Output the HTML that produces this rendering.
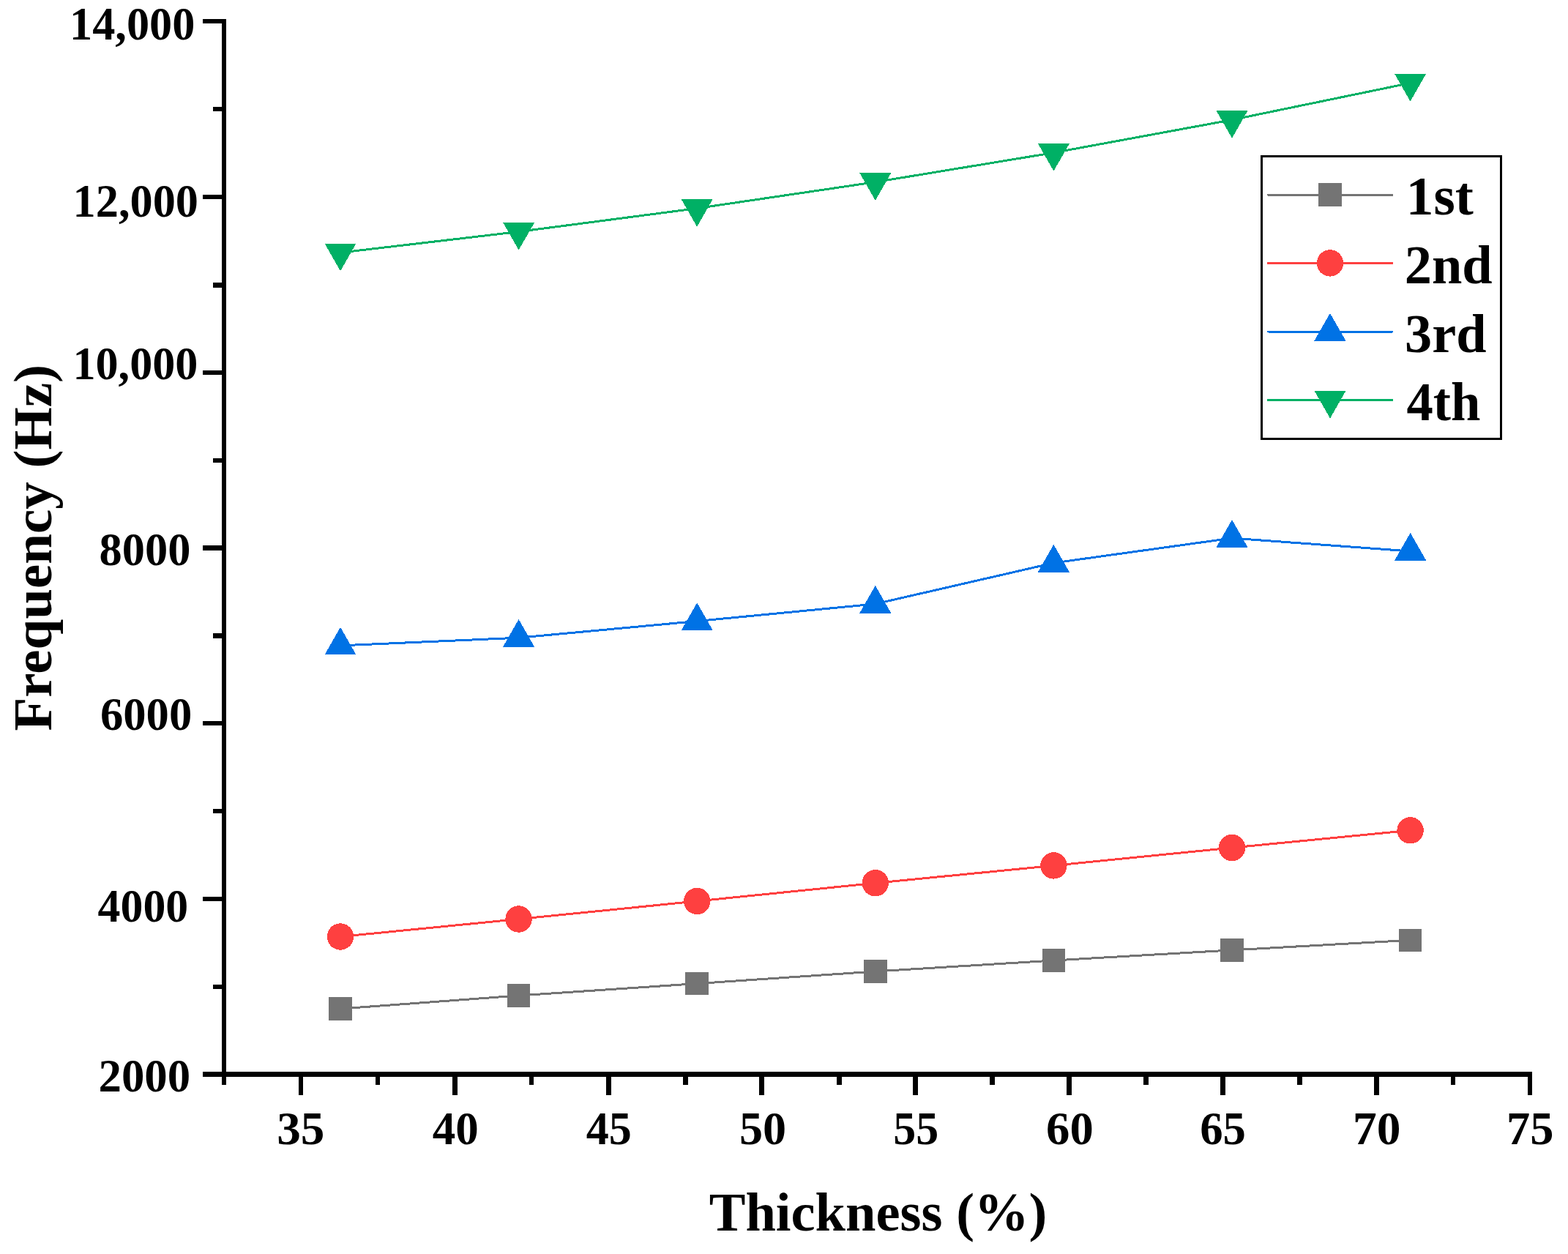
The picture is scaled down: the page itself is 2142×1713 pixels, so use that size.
<!DOCTYPE html>
<html><head><meta charset="utf-8"><title>Frequency vs Thickness</title>
<style>html,body{margin:0;padding:0;background:#fff}svg{display:block}</style></head>
<body><svg width="2142" height="1713" viewBox="0 0 2142 1713">
<rect width="2142" height="1713" fill="#fff"/>
<g fill="#000">
<rect x="303" y="26" width="6" height="1456"/>
<rect x="277" y="1464" width="1816" height="7"/>
<rect x="277" y="26" width="26" height="6"/>
<rect x="277" y="266" width="26" height="6"/>
<rect x="277" y="506" width="26" height="6"/>
<rect x="277" y="745" width="26" height="7"/>
<rect x="277" y="985" width="26" height="6"/>
<rect x="277" y="1225" width="26" height="6"/>
<rect x="291" y="146" width="12" height="6"/>
<rect x="291" y="386" width="12" height="7"/>
<rect x="291" y="626" width="12" height="6"/>
<rect x="291" y="865" width="12" height="7"/>
<rect x="291" y="1105" width="12" height="6"/>
<rect x="291" y="1345" width="12" height="6"/>
<rect x="408" y="1471" width="6" height="25"/>
<rect x="618" y="1471" width="7" height="25"/>
<rect x="828" y="1471" width="7" height="25"/>
<rect x="1037" y="1471" width="7" height="25"/>
<rect x="1247" y="1471" width="7" height="25"/>
<rect x="1457" y="1471" width="7" height="25"/>
<rect x="1667" y="1471" width="7" height="25"/>
<rect x="1877" y="1471" width="7" height="25"/>
<rect x="2087" y="1471" width="6" height="25"/>
<rect x="513" y="1471" width="6" height="11"/>
<rect x="723" y="1471" width="6" height="11"/>
<rect x="933" y="1471" width="7" height="11"/>
<rect x="1143" y="1471" width="7" height="11"/>
<rect x="1352" y="1471" width="7" height="11"/>
<rect x="1562" y="1471" width="7" height="11"/>
<rect x="1772" y="1471" width="7" height="11"/>
<rect x="1982" y="1471" width="6" height="11"/>
</g>
<text x="95.01" y="53.7" textLength="171.36" lengthAdjust="spacingAndGlyphs" style="font-family:'Liberation Serif','Times New Roman',serif;font-weight:bold;font-size:63px">14,000</text>
<text x="99.61" y="296.1" textLength="171.36" lengthAdjust="spacingAndGlyphs" style="font-family:'Liberation Serif','Times New Roman',serif;font-weight:bold;font-size:63px">12,000</text>
<text x="99.42" y="518.1" textLength="171.05" lengthAdjust="spacingAndGlyphs" style="font-family:'Liberation Serif','Times New Roman',serif;font-weight:bold;font-size:63px">10,000</text>
<text x="135.43" y="771.9" textLength="124.95" lengthAdjust="spacingAndGlyphs" style="font-family:'Liberation Serif','Times New Roman',serif;font-weight:bold;font-size:63px">8000</text>
<text x="136.96" y="997.2" textLength="125.33" lengthAdjust="spacingAndGlyphs" style="font-family:'Liberation Serif','Times New Roman',serif;font-weight:bold;font-size:63px">6000</text>
<text x="133.55" y="1259.1" textLength="123.70" lengthAdjust="spacingAndGlyphs" style="font-family:'Liberation Serif','Times New Roman',serif;font-weight:bold;font-size:63px">4000</text>
<text x="134.46" y="1490.9" textLength="125.73" lengthAdjust="spacingAndGlyphs" style="font-family:'Liberation Serif','Times New Roman',serif;font-weight:bold;font-size:63px">2000</text>
<text x="378.25" y="1563" textLength="65.24" lengthAdjust="spacingAndGlyphs" style="font-family:'Liberation Serif','Times New Roman',serif;font-weight:bold;font-size:63px">35</text>
<text x="590.64" y="1563" textLength="63.06" lengthAdjust="spacingAndGlyphs" style="font-family:'Liberation Serif','Times New Roman',serif;font-weight:bold;font-size:63px">40</text>
<text x="800.65" y="1563" textLength="62.12" lengthAdjust="spacingAndGlyphs" style="font-family:'Liberation Serif','Times New Roman',serif;font-weight:bold;font-size:63px">45</text>
<text x="1009.93" y="1563" textLength="64.22" lengthAdjust="spacingAndGlyphs" style="font-family:'Liberation Serif','Times New Roman',serif;font-weight:bold;font-size:63px">50</text>
<text x="1220.32" y="1563" textLength="61.95" lengthAdjust="spacingAndGlyphs" style="font-family:'Liberation Serif','Times New Roman',serif;font-weight:bold;font-size:63px">55</text>
<text x="1429.09" y="1563" textLength="64.67" lengthAdjust="spacingAndGlyphs" style="font-family:'Liberation Serif','Times New Roman',serif;font-weight:bold;font-size:63px">60</text>
<text x="1639.26" y="1563" textLength="62.74" lengthAdjust="spacingAndGlyphs" style="font-family:'Liberation Serif','Times New Roman',serif;font-weight:bold;font-size:63px">65</text>
<text x="1847.96" y="1563" textLength="65.54" lengthAdjust="spacingAndGlyphs" style="font-family:'Liberation Serif','Times New Roman',serif;font-weight:bold;font-size:63px">70</text>
<text x="2057.92" y="1563" textLength="64.44" lengthAdjust="spacingAndGlyphs" style="font-family:'Liberation Serif','Times New Roman',serif;font-weight:bold;font-size:63px">75</text>
<text x="1199.5" y="1681.2" text-anchor="middle" style="font-family:'Liberation Serif','Times New Roman',serif;font-weight:bold;font-size:74.5px">Thickness (%)</text>
<text transform="translate(70,748.2) rotate(-90)" x="0" y="0" text-anchor="middle" style="font-family:'Liberation Serif','Times New Roman',serif;font-weight:bold;font-size:75px">Frequency (Hz)</text>
<g shape-rendering="crispEdges">
<polyline points="465.0,1378.0 708.6,1360.0 952.2,1343.6 1195.8,1327.0 1439.4,1312.0 1683.0,1297.9 1926.6,1284.3" fill="none" stroke="#747474" stroke-width="3" stroke-linejoin="miter" shape-rendering="crispEdges"/>
<rect x="449.2" y="1362.2" width="31.6" height="31.6" fill="#747474"/>
<rect x="692.8" y="1344.2" width="31.6" height="31.6" fill="#747474"/>
<rect x="936.4" y="1327.8" width="31.6" height="31.6" fill="#747474"/>
<rect x="1180.0" y="1311.2" width="31.6" height="31.6" fill="#747474"/>
<rect x="1423.6" y="1296.2" width="31.6" height="31.6" fill="#747474"/>
<rect x="1667.2" y="1282.1" width="31.6" height="31.6" fill="#747474"/>
<rect x="1910.8" y="1268.5" width="31.6" height="31.6" fill="#747474"/>
<polyline points="465.0,1279.5 708.6,1255.5 952.2,1231.0 1195.8,1206.3 1439.4,1182.4 1683.0,1158.0 1926.6,1134.3" fill="none" stroke="#fe4040" stroke-width="3" stroke-linejoin="miter" shape-rendering="crispEdges"/>
<circle cx="465.0" cy="1279.5" r="18.2" fill="#fe4040"/>
<circle cx="708.6" cy="1255.5" r="18.2" fill="#fe4040"/>
<circle cx="952.2" cy="1231.0" r="18.2" fill="#fe4040"/>
<circle cx="1195.8" cy="1206.3" r="18.2" fill="#fe4040"/>
<circle cx="1439.4" cy="1182.4" r="18.2" fill="#fe4040"/>
<circle cx="1683.0" cy="1158.0" r="18.2" fill="#fe4040"/>
<circle cx="1926.6" cy="1134.3" r="18.2" fill="#fe4040"/>
<polyline points="465.0,881.9 708.6,871.2 952.2,848.5 1195.8,825.0 1439.4,769.0 1683.0,735.1 1926.6,753.0" fill="none" stroke="#0072e5" stroke-width="3" stroke-linejoin="miter" shape-rendering="crispEdges"/>
<polygon points="465.0,856.8 486.5,894.4 443.5,894.4" fill="#0072e5"/>
<polygon points="708.6,846.1 730.1,883.7 687.1,883.7" fill="#0072e5"/>
<polygon points="952.2,823.4 973.7,861.0 930.7,861.0" fill="#0072e5"/>
<polygon points="1195.8,799.9 1217.3,837.5 1174.3,837.5" fill="#0072e5"/>
<polygon points="1439.4,743.9 1460.9,781.5 1417.9,781.5" fill="#0072e5"/>
<polygon points="1683.0,710.0 1704.5,747.6 1661.5,747.6" fill="#0072e5"/>
<polygon points="1926.6,727.9 1948.1,765.5 1905.1,765.5" fill="#0072e5"/>
<polyline points="465.0,345.1 708.6,316.5 952.2,284.6 1195.8,248.7 1439.4,208.6 1683.0,163.7 1926.6,113.4" fill="none" stroke="#00b065" stroke-width="3" stroke-linejoin="miter" shape-rendering="crispEdges"/>
<polygon points="443.5,332.6 486.5,332.6 465.0,370.2" fill="#00b065"/>
<polygon points="687.1,304.0 730.1,304.0 708.6,341.6" fill="#00b065"/>
<polygon points="930.7,272.1 973.7,272.1 952.2,309.7" fill="#00b065"/>
<polygon points="1174.3,236.2 1217.3,236.2 1195.8,273.8" fill="#00b065"/>
<polygon points="1417.9,196.1 1460.9,196.1 1439.4,233.7" fill="#00b065"/>
<polygon points="1661.5,151.2 1704.5,151.2 1683.0,188.8" fill="#00b065"/>
<polygon points="1905.1,100.9 1948.1,100.9 1926.6,138.5" fill="#00b065"/>
</g>
<rect x="1723.5" y="213.5" width="327" height="386" fill="none" stroke="#000" stroke-width="3"/>
<line shape-rendering="crispEdges" x1="1732.6" y1="266.2" x2="1902" y2="266.2" stroke="#747474" stroke-width="3" stroke-linecap="round"/>
<g shape-rendering="crispEdges"><rect x="1801.2" y="250.4" width="31.6" height="31.6" fill="#747474"/></g>
<text x="1920.76" y="292.7" textLength="92.17" lengthAdjust="spacingAndGlyphs" style="font-family:'Liberation Serif','Times New Roman',serif;font-weight:bold;font-size:74.5px">1st</text>
<line shape-rendering="crispEdges" x1="1732.6" y1="359.4" x2="1902" y2="359.4" stroke="#fe4040" stroke-width="3" stroke-linecap="round"/>
<g shape-rendering="crispEdges"><circle cx="1817.0" cy="359.4" r="18.2" fill="#fe4040"/></g>
<text x="1918.78" y="386.8" textLength="119.86" lengthAdjust="spacingAndGlyphs" style="font-family:'Liberation Serif','Times New Roman',serif;font-weight:bold;font-size:74.5px">2nd</text>
<line shape-rendering="crispEdges" x1="1732.6" y1="453" x2="1902" y2="453" stroke="#0072e5" stroke-width="3" stroke-linecap="round"/>
<g shape-rendering="crispEdges"><polygon points="1817.0,427.9 1838.5,465.5 1795.5,465.5" fill="#0072e5"/></g>
<text x="1919.11" y="480.7" textLength="111.43" lengthAdjust="spacingAndGlyphs" style="font-family:'Liberation Serif','Times New Roman',serif;font-weight:bold;font-size:74.5px">3rd</text>
<line shape-rendering="crispEdges" x1="1732.6" y1="546.4" x2="1902" y2="546.4" stroke="#00b065" stroke-width="3" stroke-linecap="round"/>
<g shape-rendering="crispEdges"><polygon points="1795.5,533.9 1838.5,533.9 1817.0,571.5" fill="#00b065"/></g>
<text x="1921.41" y="573.9" textLength="100.89" lengthAdjust="spacingAndGlyphs" style="font-family:'Liberation Serif','Times New Roman',serif;font-weight:bold;font-size:74.5px">4th</text>
</svg></body></html>
